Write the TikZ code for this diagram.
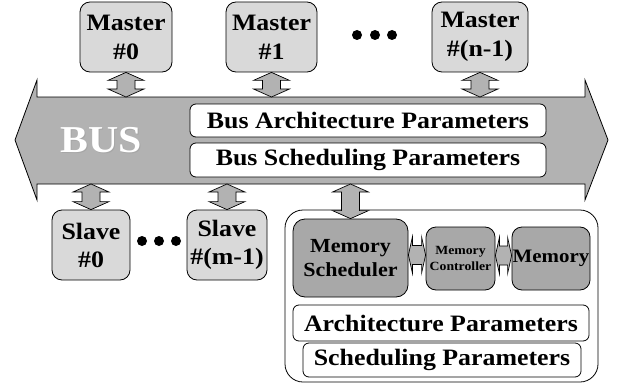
\documentclass[tikz,border=0pt]{standalone}
\usepackage{fontspec}
\setmainfont{Liberation Serif}[FakeStretch=1.1]
\usetikzlibrary{calc}

\definecolor{busgray}{gray}{0.70}
\definecolor{unitgray}{gray}{0.85}
\definecolor{memgray}{gray}{0.66}

\tikzset{
  unit/.style={draw, line width=0.8pt, rounded corners=10pt, fill=unitgray,
    inner sep=0pt, align=center, font=\fontsize{23.5}{29}\selectfont\bfseries},
  param/.style={draw, line width=0.8pt, rounded corners=6pt, fill=white,
    inner sep=0pt, font=\fontsize{23.5}{28}\selectfont\bfseries},
  memunit/.style={draw, line width=0.8pt, rounded corners=10pt, fill=memgray,
    inner sep=0pt, align=center},
  dot/.style={circle, fill=black, inner sep=0pt, minimum size=10pt},
  link/.style={fill=busgray, draw, line width=0.7pt, line join=miter},
  busbody/.style={fill=busgray, draw, line width=0.8pt, line join=miter},
}

% vertical double arrow between two points (same x taken from the first)
\newcommand\vlink[2]{%
  \draw[link] let \p1=#1, \p2=#2 in
    (\x1,\y1) -- ++(18pt,-8pt) -- ++(-9pt,0pt) -- (\x1+9pt,\y2+8pt)
    -- ++(9pt,0pt) -- (\x1,\y2) -- ++(-18pt,8pt) -- ++(9pt,0pt)
    -- (\x1-9pt,\y1-8pt) -- ++(-9pt,0pt) -- cycle;}
% horizontal double arrow between two points (same y taken from the first)
\newcommand\hlink[2]{%
  \draw[link] let \p1=#1, \p2=#2 in
    (\x1,\y1) -- ++(4pt,18pt) -- ++(0pt,-8.5pt) -- (\x2-4pt,\y1+9.5pt)
    -- ++(0pt,8.5pt) -- (\x2,\y1) -- ++(-4pt,-18pt) -- ++(0pt,8.5pt)
    -- (\x1+4pt,\y1-9.5pt) -- ++(0pt,-8.5pt) -- cycle;}

\begin{document}
\begin{tikzpicture}[x=1pt,y=-1pt]
\useasboundingbox (0,0) rectangle (617,385);

% the bus: a wide double-headed arrow
\draw[busbody] (15,140) -- (37,80) -- (37,97) -- (585,97) -- (585,80)
  -- (608,140) -- (585,200) -- (585,184) -- (37,184) -- (37,200) -- cycle;
\coordinate (bustop) at (0,97);
\coordinate (busbot) at (0,184);

\node[text=black!35, font=\fontsize{38}{38}\selectfont\bfseries, anchor=base]
  (busshadow) at (102.5,153.5) {BUS};
\node[text=white, font=\fontsize{38}{38}\selectfont\bfseries, anchor=base]
  (buslabel) at (101.5,152.5) {BUS};

\node[param, minimum width=356pt, minimum height=33pt] (bap) at (368,120.5)
  {Bus Architecture Parameters};
\node[param, minimum width=356pt, minimum height=34pt] (bsp) at (368,160)
  {Bus Scheduling Parameters};

% masters
\node[unit, minimum width=92pt, minimum height=70pt] (m0) at (126,37) {Master\\\#0};
\node[unit, minimum width=91pt, minimum height=70pt] (m1) at (271.5,37) {Master\\\#1};
\node[unit, minimum width=96pt, minimum height=70pt] (mn) at (480,37) {Master\\\#(n-1)};
\node[dot] (md1) at (357,35) {};
\node[dot] (md2) at (375,35) {};
\node[dot] (md3) at (392,35) {};

\vlink{(m0.south)}{(m0.south |- bustop)}
\vlink{(m1.south)}{(m1.south |- bustop)}
\vlink{(mn.south)}{(mn.south |- bustop)}

% slaves
\node[unit, minimum width=78pt, minimum height=70pt,
  font=\fontsize{23.5}{28}\selectfont\bfseries] (s0) at (91,245) {Slave\\\#0};
\node[unit, minimum width=80pt, minimum height=70pt,
  font=\fontsize{23.5}{28}\selectfont\bfseries] (sm) at (227,245) {Slave\\\#(m-1)};
\node[dot] (sd1) at (142,241) {};
\node[dot] (sd2) at (159,241) {};
\node[dot] (sd3) at (176,241) {};

\vlink{(s0.north |- busbot)}{(s0.north)}
\vlink{(sm.north |- busbot)}{(sm.north)}

% memory subsystem
\node[draw, line width=0.8pt, rounded corners=18pt, fill=white,
  minimum width=313pt, minimum height=172pt] (memsys) at (441.5,296) {};
\node[memunit, rounded corners=12pt, minimum width=115pt, minimum height=78pt,
  font=\fontsize{20}{24}\selectfont\bfseries] (sched) at (350.5,258) {Memory\\Scheduler};
\node[memunit, minimum width=69pt, minimum height=63pt,
  font=\fontsize{12.5}{16}\selectfont\bfseries] (ctrl) at (460.5,258.5) {Memory\\Controller};
\node[memunit, minimum width=78pt, minimum height=63pt,
  font=\fontsize{19}{22}\selectfont\bfseries] (mem) at (551,258.5) {Memory};
\node[param, minimum width=296pt, minimum height=36pt] (ap) at (441,323)
  {Architecture Parameters};
\node[param, minimum width=278pt, minimum height=34pt] (sp) at (442,360)
  {Scheduling Parameters};

\vlink{(sched.north |- busbot)}{(sched.north)}
\hlink{([yshift=3pt]sched.east)}{(ctrl.west)}
\hlink{([yshift=3pt]ctrl.east)}{(mem.west)}
\end{tikzpicture}
\end{document}
